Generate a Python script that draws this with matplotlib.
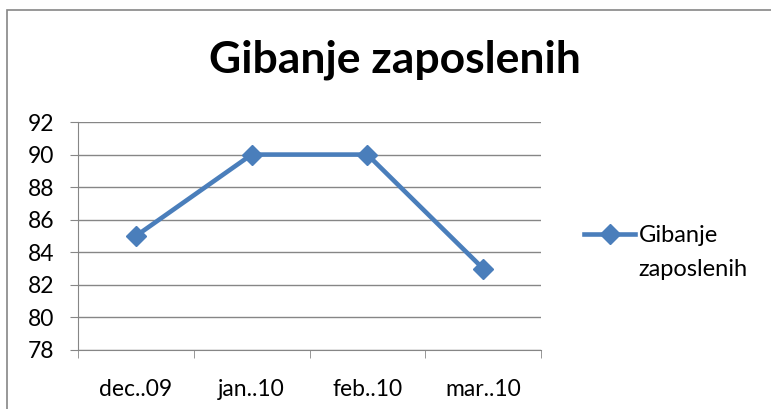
import matplotlib
matplotlib.use('Agg')
import matplotlib.pyplot as plt
from matplotlib.patches import Rectangle

# data
months = ['dec..09', 'jan..10', 'feb..10', 'mar..10']
employees = [85, 90, 90, 83]
yticks = [78, 80, 82, 84, 86, 88, 90, 92]
series_name = ['Gibanje', 'zaposlenih']

plt.rcParams['font.family'] = ['Lato', 'DejaVu Sans']

W, H = 771, 409
fig = plt.figure(figsize=(W / 100, H / 100), dpi=100)

# outer chart border (Excel style)
fig.patches.append(Rectangle((7 / W, -0.1), 1.2, 1 - 10 / H + 0.1, transform=fig.transFigure,
                             fill=False, edgecolor='#868686', lw=1.2))

ax = fig.add_axes([78 / W, 1 - 350 / H, (541 - 78) / W, (350 - 122) / H])
x = range(len(months))
ax.plot(x, employees, color='#4A7EBB', lw=3.3, marker='D', markersize=10,
        label=series_name[0])

ax.set_xlim(-0.5, len(months) - 0.5)
ax.set_ylim(78, 92)
ax.set_yticks(yticks)
ax.set_xticks(list(x))
ax.set_xticklabels(months)
ax.set_xticks([i - 0.5 for i in range(len(months) + 1)], minor=True)

for s in ['top', 'right']:
    ax.spines[s].set_visible(False)
for s in ['left', 'bottom']:
    ax.spines[s].set_color('#868686')
ax.yaxis.grid(True, color='#868686', lw=1)
ax.set_axisbelow(True)
ax.tick_params(axis='y', length=6, color='#868686', labelsize=16.5, pad=11)
ax.tick_params(axis='x', which='major', length=0, labelsize=16.5, pad=21)
ax.tick_params(axis='x', which='minor', length=6, color='#868686')

fig.text(395 / W, 1 - 60 / H, 'Gibanje zaposlenih', ha='center', va='center',
         fontsize=32, fontweight='bold')

# legend: handle sits beside the first line, second line hangs below
leg = ax.legend(loc='center left', bbox_to_anchor=(1.046, 0.5), frameon=False,
                fontsize=17, handlelength=2.2, handletextpad=0.15)
fig.text(638 / W, 1 - 270 / H, series_name[1], ha='left', va='center', fontsize=17)

fig.savefig('out.png', dpi=100)
